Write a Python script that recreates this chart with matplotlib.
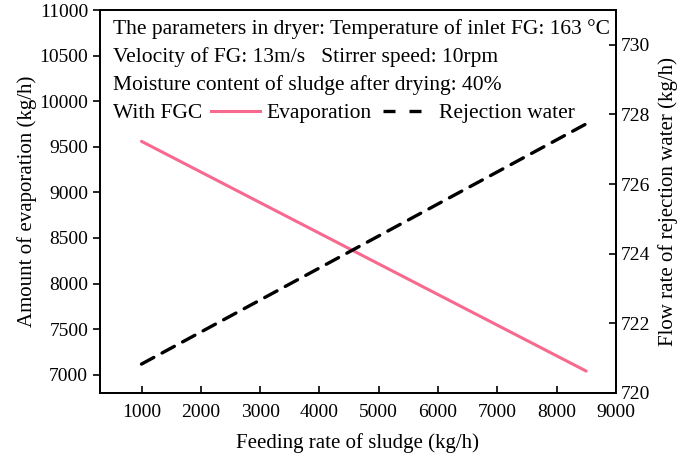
import matplotlib
matplotlib.use("Agg")
import matplotlib.pyplot as plt
from matplotlib.lines import Line2D

plt.rcParams['font.family'] = ['Liberation Serif', 'DejaVu Serif']
plt.rcParams['font.size'] = 14

# Feeding rate of sludge (kg/h)
feed = [1000, 2000, 3000, 4000, 5000, 6000, 7000, 8000, 8500]
# Amount of evaporation (kg/h)
evaporation = [9560, 9224, 8888, 8552, 8216, 7880, 7544, 7208, 7040]
# Flow rate of rejection water (kg/h)
rejection = [720.83, 721.75, 722.67, 723.59, 724.51, 725.43, 726.35, 727.27, 727.73]

pink = '#F7698F'

fig = plt.figure(figsize=(6.85, 4.58), dpi=100)
ax = fig.add_axes([0.146, 0.142, 0.753, 0.836])
ax2 = ax.twinx()

ax.plot(feed, evaporation, color=pink, lw=2.2, solid_capstyle='round')
ax2.plot(feed, rejection, color='black', lw=2.4, dashes=(4.2, 2.8),
         dash_capstyle='round')

ax.set_xlim(300, 9000)
ax.set_ylim(6800, 11000)
ax2.set_ylim(720, 731)
ax.set_xticks(range(1000, 9001, 1000))
ax.set_yticks(range(7000, 11001, 500))
ax2.set_yticks(range(720, 731, 2))

ax.tick_params(axis='x', direction='in', length=5, width=1.2, pad=8)
ax.tick_params(axis='y', direction='out', length=5, width=1.2)
ax2.tick_params(axis='y', direction='in', length=5, width=1.2)
for a in (ax, ax2):
    for s in a.spines.values():
        s.set_linewidth(1.3)

ax.set_xlabel('Feeding rate of sludge (kg/h)', fontsize=15, labelpad=9)
ax.set_ylabel('Amount of evaporation (kg/h)', fontsize=15, labelpad=2)
ax2.set_ylabel('Flow rate of rejection water (kg/h)', fontsize=15, labelpad=6)

# parameter notes
notes = ['The parameters in dryer: Temperature of inlet FG: 163 \u00b0C',
         'Velocity of FG: 13m/s   Stirrer speed: 10rpm',
         'Moisture content of sludge after drying: 40%',
         'With FGC']
for i, t in enumerate(notes):
    ax.text(0.025, 0.95 - i * 0.073, t, transform=ax.transAxes,
            ha='left', va='center', fontsize=15.5)

handles = [Line2D([], [], color=pink, lw=2.2),
           Line2D([], [], color='black', lw=2.4, dashes=(3.6, 4.2))]
ax.legend(handles, ['Evaporation', 'Rejection water'], ncol=2, frameon=False,
          loc='center left', bbox_to_anchor=(0.215, 0.95 - 3 * 0.073),
          handlelength=2.3, handletextpad=0.3, columnspacing=0.5,
          borderaxespad=0, borderpad=0, fontsize=15.5)

fig.savefig('out.png', dpi=100)
